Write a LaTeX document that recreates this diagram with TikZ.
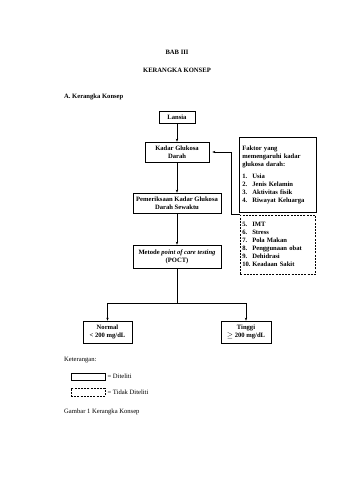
\documentclass[tikz,border=0pt]{standalone}
\usepackage{fontspec}
\setmainfont{Liberation Serif}
\usepackage{amsmath, amssymb}
\usepackage{tikz}
\usetikzlibrary{arrows.meta}

\tikzset{
  solidbox/.style={draw, line width=0.7pt, align=center, inner sep=2pt, font=\fontsize{6.6}{8}\selectfont\bfseries},
  dashbox/.style={draw, dashed, line width=0.6pt, dash pattern=on 2pt off 1.2pt, inner sep=2pt},
  conn/.style={line width=0.5pt, -{Stealth[length=3pt,width=2.4pt]}},
  txt/.style={font=\fontsize{6.6}{8}\selectfont, inner sep=0pt}
}

\begin{document}
\begin{tikzpicture}[x=1pt, y=-1pt]
  \useasboundingbox (0,0) rectangle (339,480);
  \node[txt, font=\fontsize{6.6}{8}\selectfont\bfseries] (bab) at (177,52) {BAB III};
  \node[txt, font=\fontsize{6.6}{8}\selectfont\bfseries] (judul) at (177,70) {KERANGKA KONSEP};
  \node[txt, font=\fontsize{6.6}{8}\selectfont\bfseries, anchor=west] (sub) at (64,97) {\makebox[8pt][l]{A.}Kerangka Konsep};

  \node[solidbox, minimum width=36, minimum height=12] (lansia) at (177,117) {Lansia};
  \node[solidbox, minimum width=64, minimum height=20] (kadar) at (177,152) {Kadar Glukosa\\Darah};
  \node[solidbox, minimum width=88, minimum height=20] (periksa) at (177,203) {Pemeriksaan Kadar Glukosa\\Darah Sewaktu};
  \node[solidbox, minimum width=88, minimum height=23] (metode) at (177,256.5) {Metode \textit{point of care testing}\\(POCT)};
  \node[solidbox, minimum width=49, minimum height=22] (normal) at (107.5,332) {Normal\\< 200 mg/dL};
  \node[solidbox, minimum width=50, minimum height=22] (tinggi) at (246,332) {Tinggi\\$\geq$ 200 mg/dL};

  \node[solidbox, anchor=north west, minimum width=77, minimum height=75, align=left, text width=71pt] (faktor) at (239,137)
    {Faktor yang\\memengaruhi kadar\\glukosa darah:\\[4pt]
     \makebox[10pt][l]{1.}Usia\\
     \makebox[10pt][l]{2.}Jenis Kelamin\\
     \makebox[10pt][l]{3.}Aktivitas fisik\\
     \makebox[10pt][l]{4.}Riwayat Keluarga};
  \node[solidbox, dashbox, anchor=north west, minimum width=75, minimum height=59, align=left, text width=71pt] (lain) at (240,215)
    {\makebox[10pt][l]{5.}IMT\\
     \makebox[10pt][l]{6.}Stress\\
     \makebox[10pt][l]{7.}Pola Makan\\
     \makebox[10pt][l]{8.}Penggunaan obat\\
     \makebox[10pt][l]{9.}Dehidrasi\\
     \makebox[10pt][l]{10.}Keadaan Sakit};

  \draw[conn] (lansia) -- (kadar);
  \draw[conn] (kadar) -- (periksa);
  \draw[conn] (periksa) -- (metode);
  \coordinate (cabang) at (metode.south |- 0,303);
  \draw[line width=0.5pt] (metode.south) -- (cabang);
  \draw[conn] (cabang) -| (normal.north);
  \draw[conn] (cabang) -| (tinggi.north);
  \draw[conn] ([yshift=1pt]lain.north west) -- ++(-9,0) |- ([xshift=3pt]kadar.east);

  \node[txt, anchor=west] (ket) at (64,360) {Keterangan:};
  \node[solidbox, minimum width=34, minimum height=7] (legsolid) at (88,376.5) {};
  \node[dashbox, minimum width=34, minimum height=8] (legdash) at (88,392) {};
  \node[txt, anchor=west] (diteliti) at ([xshift=2pt]legsolid.east) {= Diteliti};
  \node[txt, anchor=west] (tidak) at ([xshift=2pt]legdash.east) {= Tidak Diteliti};
  \node[txt, anchor=west] (gambar) at (64,412) {Gambar 1 Kerangka Konsep};
\end{tikzpicture}
\end{document}
